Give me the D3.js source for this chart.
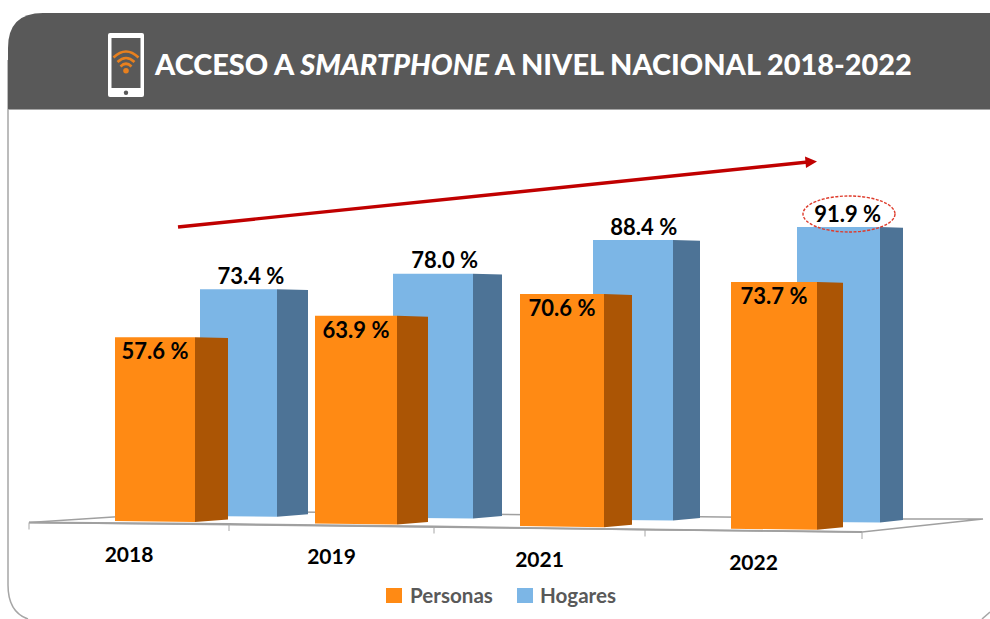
<!DOCTYPE html>
<html><head><meta charset="utf-8">
<script src="https://cdn.jsdelivr.net/npm/d3@7/dist/d3.min.js"></script>
<style>html,body{margin:0;padding:0;background:#fff}svg{display:block}text{font-family:Lato,sans-serif;font-weight:700}</style>
</head><body><svg id="c" width="990" height="619"></svg>
<script>
const years = ["2018","2019","2021","2022"];
const personas = [57.6,63.9,70.6,73.7];
const hogares = [73.4,78.0,88.4,91.9];
const seriesNames = ["Personas","Hogares"];
const idx = [0,1,2,3];

const svg = d3.select("#c");
const fmt = d => d.toFixed(1) + " %";

// panel
svg.append("path")
  .attr("d","M8,60 L8,585 Q8,612 28,619")
  .attr("fill","none").attr("stroke","#a6a6a6").attr("stroke-width",1.5);
svg.append("path").attr("d","M982,619 L990,612").attr("fill","none").attr("stroke","#a6a6a6").attr("stroke-width",1.5);
svg.append("path")
  .attr("d","M990,13 L43,13 Q8,13 8,48 L8,109 L990,109 Z")
  .attr("fill","#595959");
svg.append("line").attr("x1",8).attr("x2",990).attr("y1",109.5).attr("y2",109.5)
  .attr("stroke","#a6a6a6").attr("stroke-width",1);

// phone icon
const icon = svg.append("g");
icon.append("rect").attr("x",108).attr("y",33).attr("width",36).attr("height",64).attr("rx",2).attr("fill","#fff");
icon.append("rect").attr("x",111.5).attr("y",38).attr("width",29).attr("height",50).attr("fill","#595959");
icon.append("circle").attr("cx",126).attr("cy",92.8).attr("r",2.2).attr("fill","#595959");
icon.append("circle").attr("cx",126).attr("cy",70.7).attr("r",2.8).attr("fill","#E8801E");
["M113.5,57.5 Q126,45.5 138.5,57.5","M117.5,62 Q126,54 134.5,62","M120.5,66.5 Q126,61 131.5,66.5"].forEach(d=>
  icon.append("path").attr("d",d).attr("fill","none").attr("stroke","#E8801E").attr("stroke-width",2.6));

// title
const title = svg.append("text").attr("x",155).attr("y",75).attr("fill","#fff").attr("font-size",28.9).style("font-weight",900);
title.append("tspan").text("ACCESO A ");
title.append("tspan").attr("font-style","italic").text("SMARTPHONE");
title.append("tspan").text(" A NIVEL NACIONAL 2018-2022");

// category position along the receding floor
const axisX = d3.scaleLinear().domain([0,1,2,3,4]).range([29,229,434,645,862]);
const axisY = d3.scaleLinear().domain([29,229,434,645,862]).range([522.5,524,526.5,529.5,532]);

// floor
const floor = [[29,522.5],[205,511],[903,519],[983,519],[862,532]];
svg.append("path").attr("d",d3.line()(floor)+"Z").attr("fill","#fff").attr("stroke","#a0a0a0").attr("stroke-width",1.5);
svg.append("path").attr("d",d3.line().x(d=>axisX(d)).y(d=>axisY(axisX(d)))([0,1,2,3,4]))
  .attr("fill","none").attr("stroke","#a0a0a0").attr("stroke-width",1.8);
svg.selectAll(".tick").data([0,1,2,3,4]).join("line")
  .attr("x1",d=>axisX(d)).attr("x2",d=>axisX(d))
  .attr("y1",d=>axisY(axisX(d))).attr("y2",d=>axisY(axisX(d))+7)
  .attr("stroke","#a6a6a6").attr("stroke-width",1);

// perspective layout scales per series, indexed by category
const layouts = {
  Hogares: {
    front:"#7CB6E6", side:"#4D7396", values:hogares,
    left:d3.scaleLinear().domain(idx).range([200,393,593,797]),
    width:d3.scaleLinear().domain(idx).range([77,80,80,83]),
    depth:d3.scaleLinear().domain(idx).range([31,29,27,23]),
    unit:d3.scaleLinear().domain(idx).range([3.09,3.13,3.166,3.207]),
    base:d3.scaleLinear().domain([200,880]).range([516,522.5])
  },
  Personas: {
    front:"#FF8A14", side:"#AB5505", values:personas,
    left:d3.scaleLinear().domain(idx).range([115,315,520,731]),
    width:d3.scaleLinear().domain(idx).range([80,82,84,86]),
    depth:d3.scaleLinear().domain(idx).range([33,31,28,26]),
    unit:d3.scaleLinear().domain(idx).range([3.19,3.25,3.286,3.347]),
    base:d3.scaleLinear().domain([115,817]).range([521,529.8])
  }
};
const line = d3.line();
function geom(L,i){
  const x0=L.left(i), x1=x0+L.width(i), x2=x1+L.depth(i);
  const b0=L.base(x0), b1=L.base(x1);
  const y=d3.scaleLinear().domain([0,100]).range([b0,b0-100*L.unit(i)]);
  return {x0,x1,x2,b0,b1,top:y(L.values[i])};
}
["Hogares","Personas"].forEach(name=>{
  const L=layouts[name];
  const g=svg.append("g");
  idx.forEach(i=>{
    const m=geom(L,i);
    g.append("path").attr("d",line([[m.x1,m.top],[m.x2,m.top+0.8],[m.x2,m.b1-2.5],[m.x1,m.b1]])+"Z").attr("fill",L.side);
    g.append("path").attr("d",line([[m.x0,m.top],[m.x1,m.top],[m.x1,m.b1],[m.x0,m.b0]])+"Z").attr("fill",L.front);
  });
});

// arrow
svg.append("line").attr("x1",178).attr("y1",227).attr("x2",808).attr("y2",162)
  .attr("stroke","#C00000").attr("stroke-width",3.4);
svg.append("path").attr("d","M817,161.5 L805,156.5 L806,168 Z").attr("fill","#C00000");

// highlight ellipse
const last=geom(layouts.Hogares,3);
svg.append("ellipse").attr("cx",849).attr("cy",last.top-13).attr("rx",46).attr("ry",18)
  .attr("fill","none").attr("stroke","#DE3B2B").attr("stroke-width",1.4).attr("stroke-dasharray","3 1.5");

// data labels
idx.forEach(i=>{
  const a=geom(layouts.Personas,i), b=geom(layouts.Hogares,i);
  svg.append("text").attr("x",(a.x0+a.x1)/2).attr("y",a.top+14).attr("dy","0.35em").attr("text-anchor","middle")
    .attr("font-size",22).attr("fill","#000").text(fmt(personas[i]));
  svg.append("text").attr("x",(b.x0+b.x1)/2+layouts.Hogares.depth(i)*0.4).attr("y",b.top-13).attr("dy","0.35em").attr("text-anchor","middle")
    .attr("font-size",22).attr("fill","#000").text(fmt(hogares[i]));
  svg.append("text").attr("x",(axisX(i)+axisX(i+1))/2).attr("y",(axisY(axisX(i))+axisY(axisX(i+1)))/2+31.5).attr("dy","0.35em")
    .attr("text-anchor","middle").attr("font-size",21).attr("fill","#000").text(years[i]);
});

// legend
const legendX=d3.scaleOrdinal().domain(seriesNames).range([386,517]);
seriesNames.forEach(n=>{
  svg.append("rect").attr("x",legendX(n)).attr("y",588).attr("width",16).attr("height",15).attr("fill",layouts[n].front);
  svg.append("text").attr("x",legendX(n)+(n==="Hogares"?23:24)).attr("y",602.5).attr("font-size",20.6).attr("fill","#595959").text(n);
});
</script></body></html>
